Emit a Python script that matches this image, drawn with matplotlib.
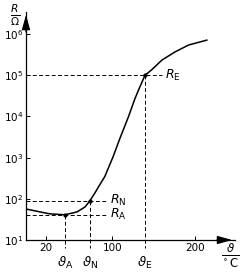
#!/usr/bin/env python3

import numpy as np
import matplotlib
import matplotlib.pyplot as plt

plt.rcParams['font.family'] = ['DejaVu Sans']
plt.rcParams['mathtext.fontset'] = 'dejavusans'

# curve (temperature in degC, resistance in Ohm)
temp = [-3, 13, 25, 43, 57.5, 67, 73, 79, 85, 91, 101, 109.5, 119.5, 127.5,
        134, 139.5, 147.5, 160, 176, 192, 214]
resist = [56, 48, 43, 41, 48, 63, 89, 138, 220, 347, 1050, 3020, 9770, 2.75e4,
          5.6e4, 1.0e5, 1.35e5, 2.34e5, 3.7e5, 5.4e5, 7.1e5]

# marked points
theta_a, r_a = 43, 41
theta_n, r_n = 73, 89
theta_e, r_e = 139.5, 1.0e5

xticks = [20, 100, 200]
yticks = [1e1, 1e2, 1e3, 1e4, 1e5, 1e6]
ytick_labels = [r"$10^{%d}$" % k for k in range(1, 7)]

W, H = 244, 275
fig = plt.figure(figsize=(W / 100, H / 100), dpi=100)
ax = fig.add_axes([26 / W, 35 / H, 209 / W, 228 / H])

x0, x1 = -4, 248
y0, y1 = 10, 10 ** (1 + 228 / 41.2)
ax.set_xlim(x0, x1)
ax.set_yscale('log')
ax.set_ylim(y0, y1)

ax.plot(temp, resist, 'k-', lw=1.1)

dash = dict(color='k', lw=0.7, ls=(0, (4, 2.5)), clip_on=False)
# horizontal helper lines
ax.plot([x0, 94], [r_n, r_n], **dash)
ax.plot([x0, 94], [r_a, r_a], **dash)
ax.plot([x0, 160], [r_e, r_e], **dash)
# vertical helper lines
ylow = 10 ** (1 - 8 / 41.2)
ax.plot([theta_a, theta_a], [r_a, ylow], **dash)
ax.plot([theta_n, theta_n], [r_n, ylow], **dash)
ax.plot([theta_e, theta_e], [r_e, ylow], **dash)

ax.plot([theta_a, theta_n, theta_e], [r_a, r_n, r_e], 'ko', ms=2)

ax.text(97, r_n, r"$R_\mathrm{N}$", fontsize=9, va='center', ha='left')
ax.text(97, r_a, r"$R_\mathrm{A}$", fontsize=9, va='center', ha='left')
ax.text(163, r_e, r"$R_\mathrm{E}$", fontsize=9, va='center', ha='left')

ylab = 10 ** (1 - 23 / 41.2)
ax.text(theta_a, ylab, r"$\vartheta_\mathrm{A}$", fontsize=9.5, ha='center', va='center')
ax.text(theta_n, ylab, r"$\vartheta_\mathrm{N}$", fontsize=9.5, ha='center', va='center')
ax.text(theta_e, ylab, r"$\vartheta_\mathrm{E}$", fontsize=9.5, ha='center', va='center')

# axes styling
for s in ('top', 'right'):
    ax.spines[s].set_visible(False)
for s in ('left', 'bottom'):
    ax.spines[s].set_linewidth(0.9)

ax.set_xticks(xticks)
ax.set_xticklabels([str(t) for t in xticks])
ax.set_yticks(yticks)
ax.set_yticklabels(ytick_labels)
ax.minorticks_off()
ax.tick_params(direction='in', length=3, width=0.7, labelsize=7.5, pad=2)

# arrow heads
arr = dict(arrowstyle='-|>,head_length=0.9,head_width=0.25', color='k',
           lw=0.9, mutation_scale=10)
ax.annotate('', xy=(1, 0), xytext=(0.9, 0), xycoords='axes fraction',
            arrowprops=arr, annotation_clip=False)
ax.annotate('', xy=(0, 1), xytext=(0, 0.9), xycoords='axes fraction',
            arrowprops=arr, annotation_clip=False)

fig.text(15 / W, 1 - 15 / H, r"$\frac{R}{\Omega}$", fontsize=11,
         ha='center', va='center')
fig.text(230 / W, 1 - 256 / H, r"$\frac{\vartheta}{^\circ\mathrm{C}}$",
         fontsize=12, ha='center', va='center')

fig.savefig('out.png', dpi=100)
